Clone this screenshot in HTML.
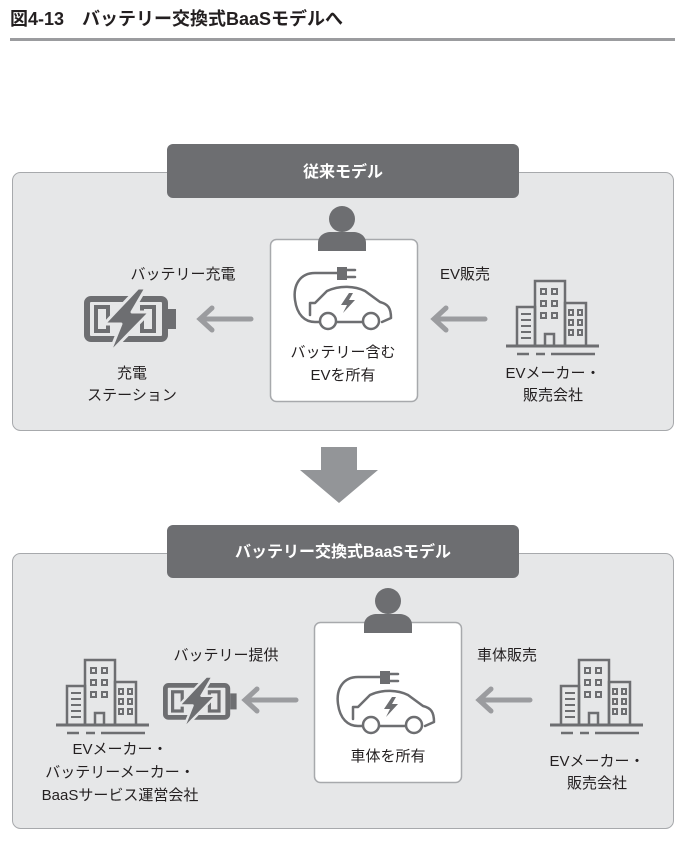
<!DOCTYPE html>
<html><head><meta charset="utf-8"><style>
body{margin:0;background:#fff;}
svg{display:block;font-family:"Liberation Sans","Noto Sans CJK JP",sans-serif;}
.t{font-size:15px;fill:#231f20;text-anchor:middle;}
.h{font-size:16px;fill:#fff;font-weight:bold;text-anchor:middle;}
</style></head><body>
<svg width="700" height="841" viewBox="0 0 700 841">
<defs>
<g id="bat">
<rect x="3" y="3" width="78" height="40" rx="4" fill="none" stroke="#6d6e71" stroke-width="6"/>
<rect x="84" y="13" width="8" height="20" fill="#6d6e71"/>
<rect x="12" y="11" width="12" height="24" fill="none" stroke="#6d6e71" stroke-width="4"/>
<rect x="58" y="11" width="12" height="24" fill="none" stroke="#6d6e71" stroke-width="4"/>
<polygon points="54,-8 20,28 37,28 25,58 66,16 48,16 62,-8" fill="#6d6e71" stroke="#e6e7e8" stroke-width="3" stroke-linejoin="round"/>
</g>
<g id="bld" fill="none" stroke="#6d6e71" stroke-width="2.5">
<rect x="29" y="1" width="30" height="65"/>
<rect x="11" y="27" width="18" height="39"/>
<rect x="59" y="23" width="21" height="43"/>
<line x1="0" y1="66" x2="93" y2="66" stroke-width="3"/>
<line x1="11" y1="74" x2="23" y2="74"/><line x1="30" y1="74" x2="39" y2="74"/><line x1="45" y1="74" x2="89" y2="74"/>
<rect x="39" y="54" width="9" height="12"/>
<g stroke-width="2">
<rect x="35" y="9" width="5" height="5"/><rect x="46" y="9" width="5" height="5"/>
<rect x="35" y="21" width="5" height="5"/><rect x="46" y="21" width="5" height="5"/>
<rect x="35" y="33" width="5" height="5"/><rect x="46" y="33" width="5" height="5"/>
<rect x="63" y="30" width="4" height="5"/><rect x="72" y="30" width="4" height="5"/>
<rect x="63" y="40" width="4" height="5"/><rect x="72" y="40" width="4" height="5"/>
<rect x="63" y="50" width="4" height="5"/><rect x="72" y="50" width="4" height="5"/>
<line x1="15" y1="34" x2="25" y2="34"/><line x1="15" y1="40" x2="25" y2="40"/><line x1="15" y1="46" x2="25" y2="46"/><line x1="15" y1="52" x2="25" y2="52"/><line x1="15" y1="58" x2="25" y2="58"/>
</g>
</g>
<g id="car" fill="none" stroke="#6d6e71" stroke-width="2.5" stroke-linecap="round" stroke-linejoin="round">
<path d="M52,13 H30 C15,13 8,25 10,40 C12,55 20,62 30,62 H35"/>
<rect x="52" y="7" width="10" height="13" fill="#6d6e71" stroke="none"/>
<path d="M62,10 H70 M62,17 H70"/>
<path d="M25,55 V43 H30 L42,31 C55,25 70,26 80,31 L95,42 C103,44 106,48 106,58 L97,62 M77,62 H51"/>
<circle cx="43" cy="61" r="8" fill="#fff"/>
<circle cx="86" cy="61" r="8" fill="#fff"/>
<polygon points="64,33 56,45 62,45 58,53 70,40 64,40 68,33" fill="#6d6e71" stroke="none"/>
</g>
<g id="person" fill="#6d6e71">
<circle cx="0" cy="0" r="13"/>
<path d="M-24,32 V24 C-24,17 -18,13 -11,13 H11 C18,13 24,17 24,24 V32 Z"/>
</g>
<g id="arr" fill="none" stroke="#9b9c9f" stroke-width="5" stroke-linecap="round">
<path d="M4,0 H55 M16,-11 L4,0 L16,11"/>
</g>
</defs>

<text x="10" y="25" font-size="18" font-weight="bold" fill="#231f20">図4-13　バッテリー交換式BaaSモデルへ</text>
<rect x="10" y="38" width="665" height="3" fill="#9b9c9f"/>

<!-- top panel -->
<rect x="12.5" y="172.5" width="661" height="258" rx="8" fill="#e6e7e8" stroke="#a7a9ac"/>
<rect x="167" y="144" width="352" height="54" rx="6" fill="#6d6e71"/>
<text class="h" x="343" y="177">従来モデル</text>
<rect x="270.5" y="239.5" width="147" height="162" rx="6" fill="#fff" stroke="#a7a9ac" stroke-width="1.5"/>
<use href="#person" x="342" y="219"/>
<use href="#car" x="285" y="260"/>
<text class="t" x="343" y="357">バッテリー含む</text>
<text class="t" x="343" y="380">EVを所有</text>
<use href="#arr" x="196" y="319"/>
<use href="#arr" x="430" y="319"/>
<use href="#bat" x="84" y="296"/>
<text class="t" x="183" y="279">バッテリー充電</text>
<text class="t" x="132" y="378">充電</text>
<text class="t" x="132" y="400">ステーション</text>
<text class="t" x="465" y="279">EV販売</text>
<use href="#bld" x="506" y="280"/>
<text class="t" x="553" y="378">EVメーカー・</text>
<text class="t" x="553" y="400">販売会社</text>

<!-- down arrow -->
<polygon points="321,447 357,447 357,470 378,470 339,503 300,470 321,470" fill="#939598"/>

<!-- bottom panel -->
<rect x="12.5" y="553.5" width="661" height="275" rx="8" fill="#e6e7e8" stroke="#a7a9ac"/>
<rect x="167" y="525" width="352" height="53" rx="6" fill="#6d6e71"/>
<text class="h" x="343" y="557">バッテリー交換式BaaSモデル</text>
<rect x="314.5" y="622.5" width="147" height="160" rx="6" fill="#fff" stroke="#a7a9ac" stroke-width="1.5"/>
<use href="#person" x="388" y="601"/>
<use href="#car" x="328" y="664"/>
<text class="t" x="388" y="761">車体を所有</text>
<use href="#arr" x="241" y="700"/>
<use href="#arr" x="475" y="700"/>
<g transform="translate(163,683) scale(0.8)"><use href="#bat"/></g>
<text class="t" x="226" y="660">バッテリー提供</text>
<use href="#bld" x="56" y="659"/>
<text class="t" x="120" y="754">EVメーカー・</text>
<text class="t" x="120" y="777">バッテリーメーカー・</text>
<text class="t" x="120" y="800">BaaSサービス運営会社</text>
<text class="t" x="507" y="660">車体販売</text>
<use href="#bld" x="550" y="659"/>
<text class="t" x="597" y="766">EVメーカー・</text>
<text class="t" x="597" y="788">販売会社</text>
</svg>
</body></html>
